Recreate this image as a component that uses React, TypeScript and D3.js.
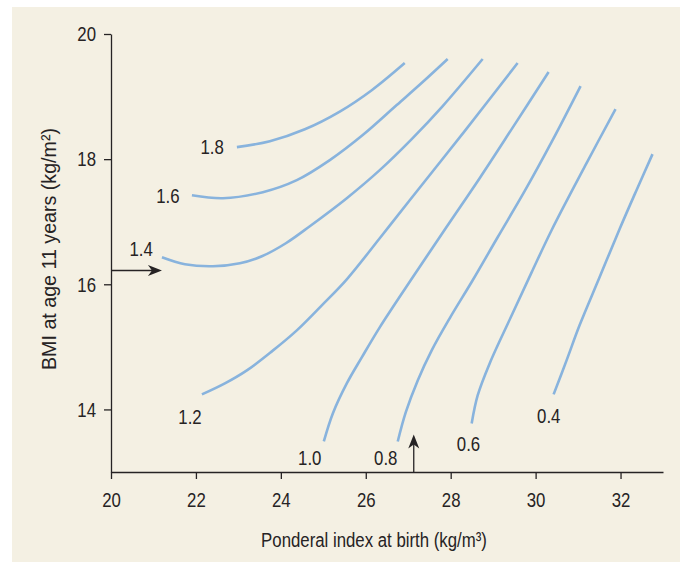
import * as d3 from "d3";
import { useEffect, useRef } from "react";

const width = 680;
const height = 562;

// contour levels (labels) and their curves, [ponderal index, BMI]
const levels = ["1.8", "1.6", "1.4", "1.2", "1.0", "0.8", "0.6", "0.4"];

const curve18 = [[22.965, 18.192], [23.741, 18.286], [24.565, 18.477], [25.388, 18.76], [26.141, 19.102], [26.918, 19.536]];
const curve16 = [[21.906, 17.424], [22.635, 17.376], [23.576, 17.472], [24.376, 17.664], [25.153, 17.984], [25.929, 18.384], [26.729, 18.864], [27.341, 19.232], [27.929, 19.6]];
const curve14 = [[21.2, 16.432], [21.741, 16.32], [22.4, 16.288], [23.035, 16.336], [23.553, 16.448], [24.118, 16.656], [24.682, 16.928], [25.553, 17.376], [26.329, 17.824], [27.082, 18.32], [27.812, 18.848], [28.753, 19.6]];
const curve12 = [[22.141, 14.24], [22.682, 14.416], [23.2, 14.624], [23.788, 14.928], [24.376, 15.264], [24.965, 15.664], [25.553, 16.08], [26.329, 16.736], [27.035, 17.344], [28.329, 18.448], [29.576, 19.536]];
const curve10 = [[25.012, 13.488], [25.224, 13.936], [25.553, 14.416], [25.906, 14.832], [26.329, 15.312], [27.106, 16.112], [27.882, 16.896], [28.682, 17.696], [29.482, 18.528], [30.306, 19.392]];
const curve08 = [[26.753, 13.488], [26.941, 13.952], [27.224, 14.464], [27.553, 14.944], [27.976, 15.456], [28.518, 16.064], [29.106, 16.752], [29.741, 17.488], [30.4, 18.304], [31.059, 19.168]];
const curve06 = [[28.494, 13.776], [28.635, 14.224], [28.918, 14.736], [29.459, 15.536], [29.929, 16.224], [30.376, 16.864], [31.2, 17.936], [31.882, 18.8]];
const curve04 = [[30.424, 14.24], [30.729, 14.784], [31.035, 15.344], [31.506, 16.112], [31.976, 16.88], [32.376, 17.504], [32.753, 18.08]];

const curves = [curve18, curve16, curve14, curve12, curve10, curve08, curve06, curve04];

const labelPos = [[22.38, 18.21], [21.34, 17.42], [20.71, 16.58], [21.86, 13.89], [24.68, 13.23], [26.47, 13.23], [28.42, 13.46], [30.31, 13.9]];

const xTicks = [20, 22, 24, 26, 28, 30, 32];
const yTicks = [14, 16, 18, 20];

// the two reading arrows
const arrowBmi = [[20, 16.22], [21.2, 16.22]];
const arrowPonderal = [[27.13, 13], [27.13, 13.6]];

const font = "'Liberation Sans', Arial, sans-serif";
const fontSize = "21px";
const squeeze = 0.8; // condensed look
const ink = "#262324";

const narrow = sel => {
	sel.each(function () {
		const t = d3.select(this);
		const x0 = +t.attr("x") || 0;
		t.attr("x", x0 / squeeze).attr("transform", `scale(${squeeze},1)`);
	});
};

const draw = (node) => {
	const svg = d3.select(node);
	svg.selectAll("*").remove();

	svg
		.append("rect")
		.attr("x", 12)
		.attr("y", 7)
		.attr("width", width - 12)
		.attr("height", height - 7)
		.attr("fill", "#f4f0e3");

	const x = d3.scaleLinear().domain([20, 33]).range([111, 663]);
	const y = d3.scaleLinear().domain([13, 20]).range([472, 34]);

	const xAxis = svg
		.append("g")
		.attr("transform", `translate(0, ${y(13)})`)
		.call(d3.axisBottom(x).tickValues(xTicks).tickFormat(d3.format("d")).tickSize(7).tickSizeOuter(0).tickPadding(13));

	const yAxis = svg
		.append("g")
		.attr("transform", `translate(${x(20)}, 0)`)
		.call(d3.axisLeft(y).tickValues(yTicks).tickFormat(d3.format("d")).tickSize(7).tickSizeOuter(0).tickPadding(8));

	[xAxis, yAxis].forEach(a => {
		a.selectAll("path, line").attr("stroke", ink).attr("stroke-width", 1.3);
		a.selectAll("text")
			.attr("fill", ink)
			.style("font-family", font)
			.style("font-size", fontSize)
			.call(narrow);
	});

	const line = d3
		.line()
		.x(d => x(d[0]))
		.y(d => y(d[1]))
		.curve(d3.curveCatmullRom.alpha(0.5));

	svg
		.append("g")
		.selectAll("path")
		.data(curves)
		.enter()
		.append("path")
		.attr("d", line)
		.attr("fill", "none")
		.attr("stroke", "#88b3dd")
		.attr("stroke-width", 2.6);

	svg
		.append("g")
		.selectAll("text")
		.data(levels)
		.enter()
		.append("text")
		.attr("transform", (d, i) => `translate(${x(labelPos[i][0])}, ${y(labelPos[i][1])}) scale(${squeeze},1)`)
		.attr("dy", "0.36em")
		.attr("text-anchor", "middle")
		.attr("fill", ink)
		.style("font-family", font)
		.style("font-size", fontSize)
		.text(d => d);

	// arrows with notched heads
	[arrowBmi, arrowPonderal].forEach(a => {
		const [x0, y0] = [x(a[0][0]), y(a[0][1])];
		const [x1, y1] = [x(a[1][0]), y(a[1][1])];
		const ang = Math.atan2(y1 - y0, x1 - x0);
		svg
			.append("line")
			.attr("x1", x0)
			.attr("y1", y0)
			.attr("x2", x1 - 8 * Math.cos(ang))
			.attr("y2", y1 - 8 * Math.sin(ang))
			.attr("stroke", ink)
			.attr("stroke-width", 1.3);
		svg
			.append("path")
			.attr("d", "M0,0 L-14,-5.5 L-10,0 L-14,5.5 Z")
			.attr("fill", ink)
			.attr("transform", `translate(${x1}, ${y1}) rotate(${(ang * 180) / Math.PI})`);
	});

	svg
		.append("text")
		.attr("transform", `translate(374, 547) scale(${squeeze},1)`)
		.attr("text-anchor", "middle")
		.attr("fill", ink)
		.style("font-family", font)
		.style("font-size", fontSize)
		.text("Ponderal index at birth (kg/m³)");

	svg
		.append("text")
		.attr("transform", "translate(56, 249) rotate(-90)")
		.attr("text-anchor", "middle")
		.attr("textLength", 242)
		.attr("lengthAdjust", "spacingAndGlyphs")
		.attr("fill", ink)
		.style("font-family", font)
		.style("font-size", fontSize)
		.text("BMI at age 11 years (kg/m²)");
};

export default function App() {
	const ref = useRef(null);

	useEffect(() => {
		draw(ref.current);
	}, []);

	return (
		<svg
			ref={ref}
			width={width}
			height={height}
			style={{ position: "absolute", left: 0, top: 0, background: "#fff" }}
		/>
	);
}
